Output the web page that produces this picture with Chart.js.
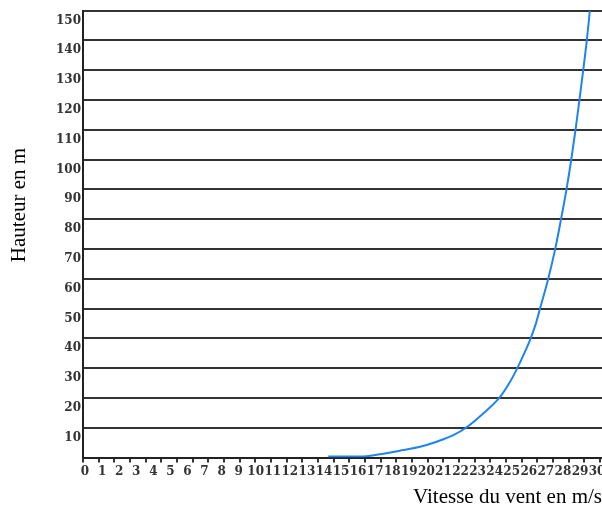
<!DOCTYPE html>
<html>
<head>
<meta charset="utf-8">
<script src="https://cdn.jsdelivr.net/npm/chart.js@4"></script>
<style>
  html, body { margin: 0; padding: 0; background: #fff; }
  #wrap { width: 602px; height: 508px; }
</style>
</head>
<body>
<div id="wrap"><canvas id="chart"></canvas></div>
<script>
// Wind speed (m/s) against height (m)
const speeds  = [14.25, 16.11, 17.28, 18.65, 19.63, 20.60, 21.58, 22.32, 23.33, 24.27, 24.86, 25.33, 25.74,
                 26.11, 26.42, 26.66, 27.14, 27.55, 27.89, 28.21, 28.49, 28.74, 28.97, 29.19, 29.40, 29.58];
const heights = [0.3, 0.3, 1.1, 2.5, 3.6, 5.3, 7.5, 10, 14.8, 20, 25, 30, 35,
                 40, 45, 50, 60, 70, 80, 90, 100, 110, 120, 130, 140, 150];

const tickFont = { family: "DejaVu Serif", size: 12, weight: "bold" };
const titleFont = { family: "Liberation Serif", size: 21, lineHeight: 1 };

// y title sits above the middle of the axis, so draw it by hand
const yTitle = {
    id: "yTitle",
    afterDraw(chart) {
        const { ctx } = chart;
        ctx.save();
        ctx.translate(19, 205);
        ctx.rotate(-Math.PI / 2);
        ctx.font = '21px "Liberation Serif"';
        ctx.fillStyle = "#000";
        ctx.textAlign = "center";
        ctx.textBaseline = "middle";
        ctx.fillText("Hauteur en m", 0, 0);
        ctx.restore();
    },
};

new Chart(document.getElementById("chart"), {
    type: "line",
    data: {
        datasets: [{
            data: speeds.map((v, i) => ({ x: v, y: heights[i] })),
            xAxisID: "x",
            yAxisID: "y",
            borderColor: "#1e84ee",
            borderWidth: 2,
            pointRadius: 0,
            cubicInterpolationMode: "monotone",
            fill: false,
        }],
    },
    options: {
        responsive: true,
        maintainAspectRatio: false,
        animation: false,
        layout: { padding: { top: 10.5, right: 0, bottom: 0, left: 0 } },
        plugins: {
            legend: { display: false },
            tooltip: { enabled: false },
        },
        scales: {
            y: {
                type: "linear",
                min: 0,
                max: 150,
                afterFit: s => { s.width = 83; s.paddingTop = 0; s.paddingBottom = 0; },
                border: { color: "#222", width: 2 },
                grid: { color: "#333", lineWidth: 2, drawTicks: false },
                ticks: {
                    stepSize: 10,
                    padding: 2,
                    labelOffset: 10,
                    color: "#333",
                    font: tickFont,
                    callback: v => (v === 0 ? "" : v),
                },
            },
            // tick marks only (their spacing differs from the labels)
            xt: {
                type: "linear",
                position: "bottom",
                weight: 0,
                min: 0,
                max: 33.12,
                afterFit: s => { s.height = 5; s.paddingLeft = 0; s.paddingRight = 0; },
                border: { color: "#222", width: 2 },
                grid: { drawOnChartArea: false, drawTicks: true, tickLength: 5, color: "#333", lineWidth: 2 },
                ticks: { display: false, stepSize: 1, includeBounds: false },
            },
            x: {
                type: "linear",
                position: "bottom",
                weight: 1,
                min: -0.12,
                max: 30.29,
                afterFit: s => { s.height = 45.5; s.paddingLeft = 0; s.paddingRight = 0; },
                border: { display: false },
                grid: { display: false, drawTicks: false },
                ticks: {
                    stepSize: 1,
                    autoSkip: false,
                    maxRotation: 0,
                    includeBounds: false,
                    padding: 2,
                    color: "#333",
                    font: tickFont,
                },
                title: {
                    display: true,
                    text: "Vitesse du vent en m/s",
                    align: "end",
                    padding: 0,
                    color: "#000",
                    font: titleFont,
                },
            },
        },
    },
    plugins: [yTitle],
});
</script>
</body>
</html>
